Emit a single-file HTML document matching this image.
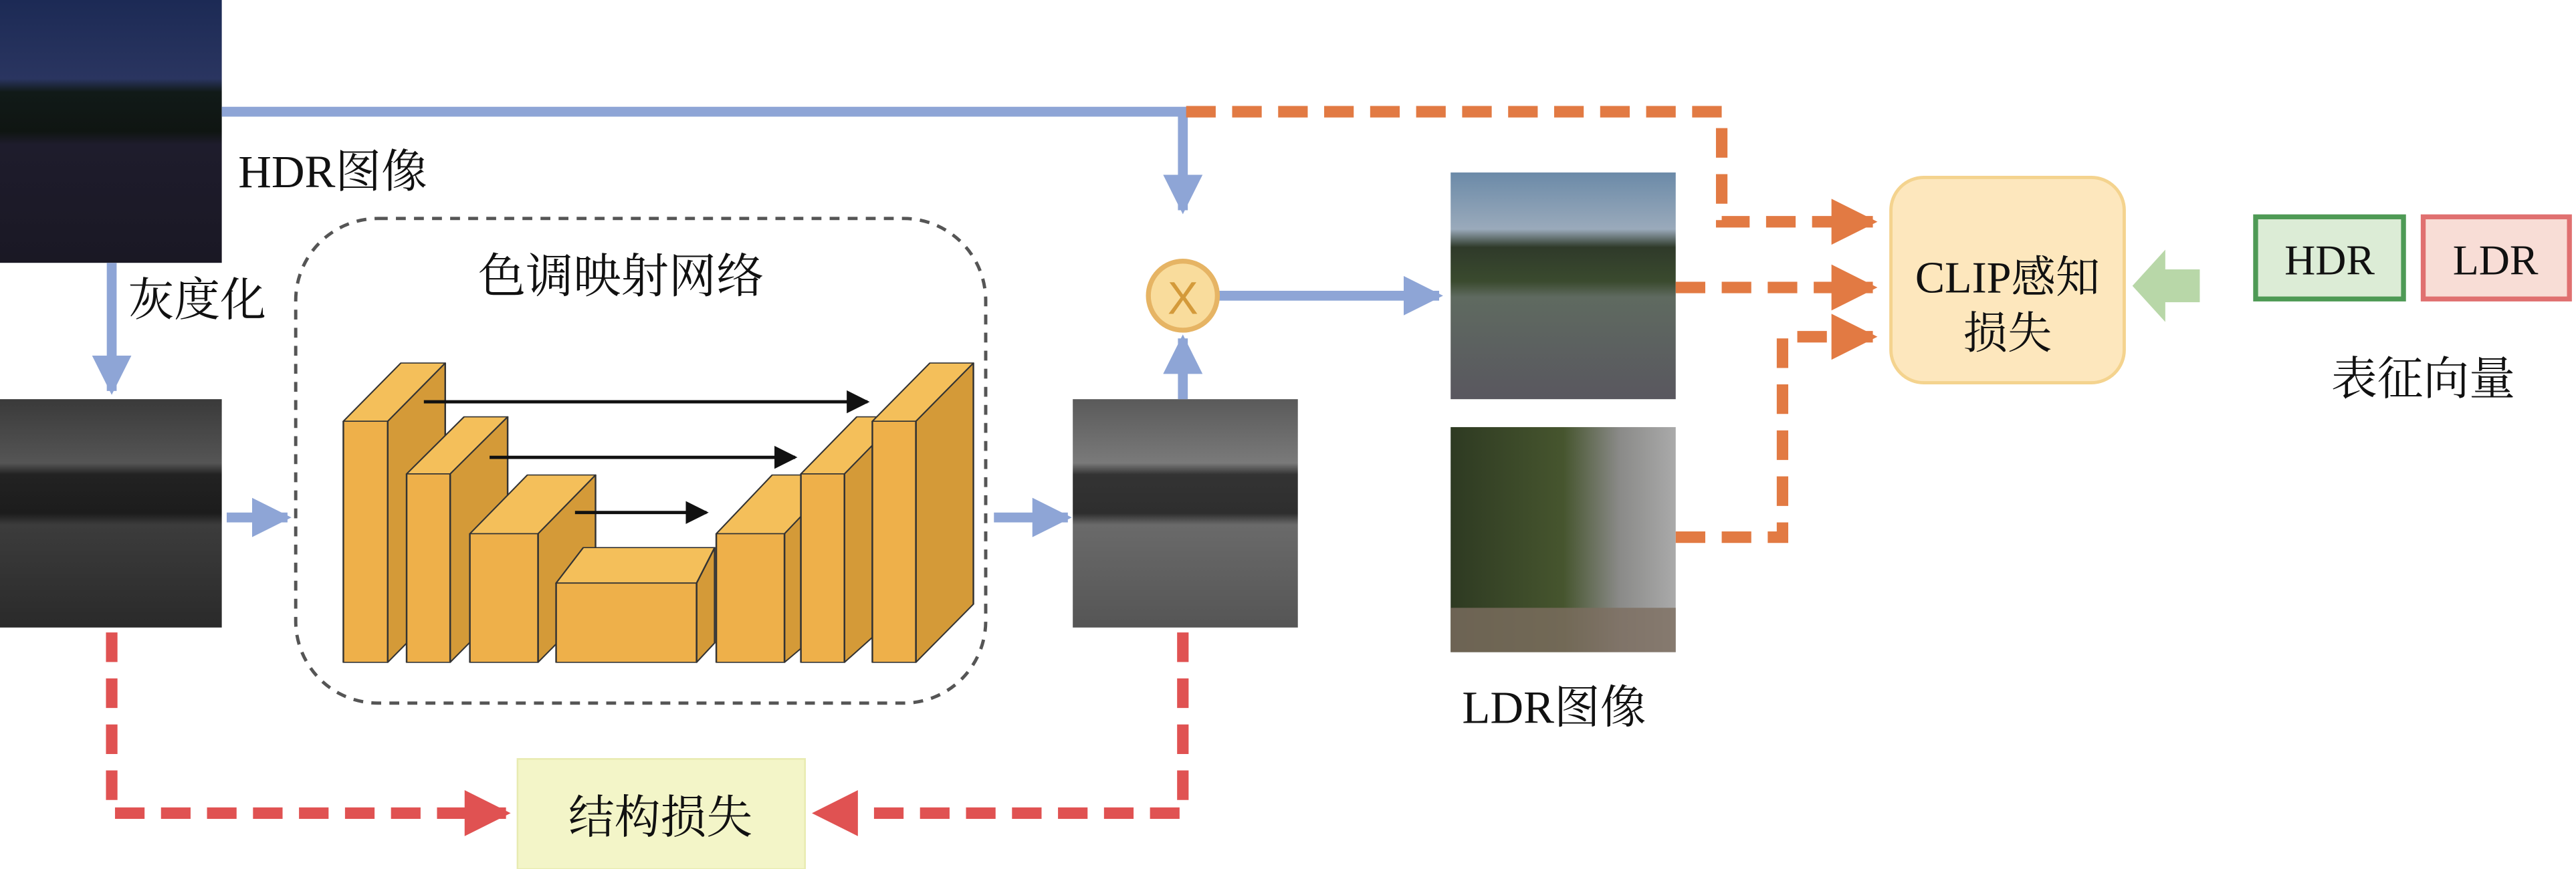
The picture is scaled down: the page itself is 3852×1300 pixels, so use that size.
<!DOCTYPE html>
<html><head><meta charset="utf-8"><style>
html,body{margin:0;padding:0;background:#fff;}
svg{display:block;}
text{font-family:"Liberation Serif","Noto Serif CJK SC",serif;fill:#111;}
</style></head><body>
<svg width="3852" height="1300" viewBox="0 0 1568 529" preserveAspectRatio="none" xmlns="http://www.w3.org/2000/svg">
<defs>
<linearGradient id="hdr" x1="0" y1="0" x2="0" y2="1">
<stop offset="0" stop-color="#1c2a55"/><stop offset="0.3" stop-color="#2a3560"/><stop offset="0.35" stop-color="#111a18"/><stop offset="0.5" stop-color="#0f1512"/><stop offset="0.55" stop-color="#1e1c2c"/><stop offset="1" stop-color="#1a1824"/></linearGradient>
<linearGradient id="gray" x1="0" y1="0" x2="0" y2="1">
<stop offset="0" stop-color="#3a3a3a"/><stop offset="0.28" stop-color="#555"/><stop offset="0.33" stop-color="#222"/><stop offset="0.5" stop-color="#1c1c1c"/><stop offset="0.55" stop-color="#3c3c3c"/><stop offset="1" stop-color="#2a2a2a"/></linearGradient>
<linearGradient id="gray2" x1="0" y1="0" x2="0" y2="1">
<stop offset="0" stop-color="#5a5a5a"/><stop offset="0.28" stop-color="#7a7a7a"/><stop offset="0.33" stop-color="#333"/><stop offset="0.5" stop-color="#2e2e2e"/><stop offset="0.55" stop-color="#6a6a6a"/><stop offset="1" stop-color="#555"/></linearGradient>
<linearGradient id="ldr1" x1="0" y1="0" x2="0" y2="1">
<stop offset="0" stop-color="#6b8aa8"/><stop offset="0.25" stop-color="#9aaabb"/><stop offset="0.33" stop-color="#2f3a2a"/><stop offset="0.48" stop-color="#3a4a2e"/><stop offset="0.55" stop-color="#5f6a60"/><stop offset="1" stop-color="#59575f"/></linearGradient>
<linearGradient id="ldr2" x1="0" y1="0" x2="1" y2="0">
<stop offset="0" stop-color="#2e3a22"/><stop offset="0.5" stop-color="#46552e"/><stop offset="0.75" stop-color="#8a8a88"/><stop offset="1" stop-color="#aaa"/></linearGradient>
<marker id="ab" viewBox="0 0 10 10" refX="9" refY="5" markerWidth="4" markerHeight="4" orient="auto"><path d="M0,0L10,5L0,10z" fill="#8ea5d6"/></marker>
<marker id="ao" viewBox="0 0 10 10" refX="9" refY="5" markerWidth="4" markerHeight="4" orient="auto"><path d="M0,0L10,5L0,10z" fill="#e27a43"/></marker>
<marker id="ar" viewBox="0 0 10 10" refX="9" refY="5" markerWidth="4" markerHeight="4" orient="auto"><path d="M0,0L10,5L0,10z" fill="#e05252"/></marker>
<marker id="ak" viewBox="0 0 10 10" refX="9" refY="5" markerWidth="7" markerHeight="7" orient="auto"><path d="M0,0L10,5L0,10z" fill="#111"/></marker>
</defs>

<rect x="0" y="0" width="135" height="160" fill="url(#hdr)"/>
<rect x="0" y="243" width="135" height="139" fill="url(#gray)"/>
<rect x="653" y="243" width="137" height="139" fill="url(#gray2)"/>
<rect x="883" y="105" width="137" height="138" fill="url(#ldr1)"/>
<rect x="883" y="260" width="137" height="137" fill="url(#ldr2)"/>
<rect x="883" y="370" width="137" height="27" fill="#7d6e60" opacity="0.8"/>

<g stroke="#8ea5d6" stroke-width="6" fill="none">
<path d="M135,68 H720 V128" marker-end="url(#ab)"/>
<path d="M68,160 V238" marker-end="url(#ab)"/>
<path d="M138,315 H175" marker-end="url(#ab)"/>
<path d="M605,315 H650" marker-end="url(#ab)"/>
<path d="M720,243 V206" marker-end="url(#ab)"/>
<path d="M742,180 H876" marker-end="url(#ab)"/>
</g>
<circle cx="720" cy="180" r="21" fill="#f9dc9c" stroke="#e6b464" stroke-width="3"/>
<text x="720" y="191" font-size="28" text-anchor="middle" style="font-family:'Liberation Sans',sans-serif;fill:#d49a3a">X</text>

<g stroke="#e27a43" stroke-width="7" fill="none" stroke-dasharray="18,10">
<path d="M722,68 H1048 V135 H1140" marker-end="url(#ao)"/>
<path d="M1020,175 H1140" marker-end="url(#ao)"/>
<path d="M1020,327 H1085 V205 H1140" marker-end="url(#ao)"/>
</g>

<rect x="315" y="462" width="175" height="67" fill="#f3f5c8" stroke="#e8ebb0" stroke-width="1"/>
<text x="402" y="507" font-size="28" text-anchor="middle">结构损失</text>

<g stroke="#e05252" stroke-width="7" fill="none" stroke-dasharray="18,10">
<path d="M68,385 V495 H308" marker-end="url(#ar)"/>
<path d="M720,385 V495 H497" marker-end="url(#ar)"/>
</g>

<rect x="180" y="133" width="420" height="295" rx="50" fill="none" stroke="#555" stroke-width="2" stroke-dasharray="6,5"/>
<text x="378" y="178" font-size="29" text-anchor="middle">色调映射网络</text>

<g transform="scale(0.5,0.3374)" stroke="#333" stroke-width="2" stroke-linejoin="round">
<g><polygon points="472,760 542,655 542,1090 472,1195" fill="#d49a38"/><polygon points="418,760 472,760 542,655 488,655" fill="#f4bf5a"/><rect x="418" y="760" width="54" height="435" fill="#eeb04a"/></g>
<g><polygon points="548,855 618,752 618,1090 548,1195" fill="#d49a38"/><polygon points="495,855 548,855 618,752 565,752" fill="#f4bf5a"/><rect x="495" y="855" width="53" height="340" fill="#eeb04a"/></g>
<g><polygon points="655,963 725,857 725,1090 655,1195" fill="#d49a38"/><polygon points="572,963 655,963 725,857 642,857" fill="#f4bf5a"/><rect x="572" y="963" width="83" height="232" fill="#eeb04a"/></g>
<g><polygon points="848,1052 870,988 870,1160 848,1195" fill="#d49a38"/><polygon points="677,1052 848,1052 870,988 710,988" fill="#f4bf5a"/><rect x="677" y="1052" width="171" height="143" fill="#eeb04a"/></g>
<g><polygon points="955,963 975,930 975,1170 955,1195" fill="#d49a38"/><polygon points="872,963 955,963 1023,857 940,857" fill="#f4bf5a"/><rect x="872" y="963" width="83" height="232" fill="#eeb04a"/></g>
<g><polygon points="1028,855 1062,803 1062,1150 1028,1195" fill="#d49a38"/><polygon points="975,855 1028,855 1096,752 1043,752" fill="#f4bf5a"/><rect x="975" y="855" width="53" height="340" fill="#eeb04a"/></g>
<g><polygon points="1115,760 1185,655 1185,1090 1115,1195" fill="#d49a38"/><polygon points="1062,760 1115,760 1185,655 1132,655" fill="#f4bf5a"/><rect x="1062" y="760" width="53" height="435" fill="#eeb04a"/></g>
</g>
<g stroke="#111" stroke-width="2" fill="none">
<path d="M258,244.6 H528" marker-end="url(#ak)"/>
<path d="M298,278.4 H484" marker-end="url(#ak)"/>
<path d="M350,312 H430" marker-end="url(#ak)"/>
</g>

<text x="145" y="114" font-size="28">HDR图像</text>
<text x="78" y="192" font-size="28">灰度化</text>
<text x="890" y="440" font-size="28">LDR图像</text>

<rect x="1151" y="108" width="142" height="125" rx="20" fill="#fde7bd" stroke="#f4d38e" stroke-width="2"/>
<text x="1222" y="178" font-size="27" text-anchor="middle">CLIP感知</text>
<text x="1222" y="212" font-size="27" text-anchor="middle">损失</text>

<polygon points="1339,164 1318,164 1318,152 1298,174 1318,196 1318,184 1339,184" fill="#b8d7a8"/>

<rect x="1373" y="132" width="90" height="50" fill="#dcecd6" stroke="#4e9a55" stroke-width="3"/>
<text x="1418" y="167" font-size="26" text-anchor="middle">HDR</text>
<rect x="1475" y="132" width="89" height="50" fill="#f8ddd6" stroke="#e07070" stroke-width="3"/>
<text x="1519" y="167" font-size="26" text-anchor="middle">LDR</text>
<text x="1475" y="240" font-size="28" text-anchor="middle">表征向量</text>
</svg>
</body></html>
